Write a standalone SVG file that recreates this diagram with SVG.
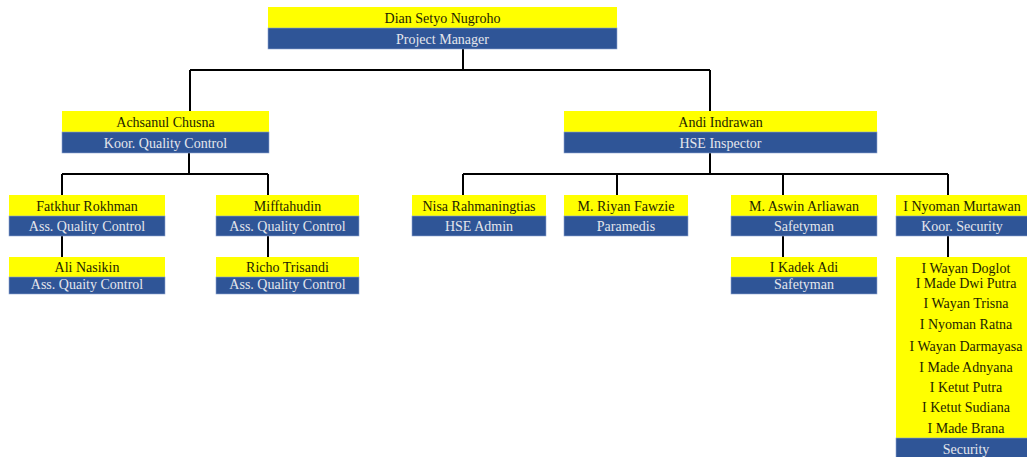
<svg xmlns="http://www.w3.org/2000/svg" width="1027" height="457" viewBox="0 0 1027 457">
<style>
.y{fill:#ffff00}
.b{fill:#2f5597;stroke:#8da4cf;stroke-width:0.6}
.n{font-family:"Liberation Serif","Times New Roman",serif;font-size:14px;fill:#1e1e00;text-anchor:middle}
.r{font-family:"Liberation Serif","Times New Roman",serif;font-size:14px;fill:#e4e6ec;text-anchor:middle}
.c{stroke:#000;stroke-width:2;fill:none}
</style>
<rect width="1027" height="457" fill="#ffffff"/>
<g id="connectors">
<path class="c" d="M463 49V70M190 70H710M190 70V111M710 70V111"/>
<path class="c" d="M189 153V174M62 174H268M62 174V195M268 174V195M62 236V257M268 236V257"/>
<path class="c" d="M710 153V174M463 174H948M463 174V195M617 174V195M783 174V195M948 174V195M783 236V257M948 236V257"/>
</g>
<g id="n-dian">
<rect class="y" x="268" y="7" width="349" height="21"/>
<rect class="b" x="268" y="28" width="349" height="21"/>
<text class="n" x="442.5" y="23">Dian Setyo Nugroho</text>
<text class="r" x="442.5" y="44">Project Manager</text>
</g>
<g id="n-achsanul">
<rect class="y" x="62" y="111" width="207" height="21"/>
<rect class="b" x="62" y="132" width="207" height="21"/>
<text class="n" x="165.5" y="127">Achsanul Chusna</text>
<text class="r" x="165.5" y="148">Koor. Quality Control</text>
</g>
<g id="n-andi">
<rect class="y" x="564" y="111" width="313" height="21"/>
<rect class="b" x="564" y="132" width="313" height="21"/>
<text class="n" x="720.5" y="127">Andi Indrawan</text>
<text class="r" x="720.5" y="148">HSE Inspector</text>
</g>
<g id="n-fatkhur">
<rect class="y" x="9" y="195" width="156" height="21"/>
<rect class="b" x="9" y="216" width="156" height="20"/>
<text class="n" x="87" y="211">Fatkhur Rokhman</text>
<text class="r" x="87" y="231">Ass. Quality Control</text>
</g>
<g id="n-mifftahudin">
<rect class="y" x="216" y="195" width="143" height="21"/>
<rect class="b" x="216" y="216" width="143" height="20"/>
<text class="n" x="287.5" y="211">Mifftahudin</text>
<text class="r" x="287.5" y="231">Ass. Quality Control</text>
</g>
<g id="n-ali">
<rect class="y" x="9" y="257" width="156" height="20"/>
<rect class="b" x="9" y="277" width="156" height="17"/>
<text class="n" x="87" y="272">Ali Nasikin</text>
<text class="r" x="87" y="289">Ass. Quaity Control</text>
</g>
<g id="n-richo">
<rect class="y" x="216" y="257" width="143" height="20"/>
<rect class="b" x="216" y="277" width="143" height="17"/>
<text class="n" x="287.5" y="272">Richo Trisandi</text>
<text class="r" x="287.5" y="289">Ass. Quality Control</text>
</g>
<g id="n-nisa">
<rect class="y" x="412" y="195" width="134" height="21"/>
<rect class="b" x="412" y="216" width="134" height="20"/>
<text class="n" x="479" y="211">Nisa Rahmaningtias</text>
<text class="r" x="479" y="231">HSE Admin</text>
</g>
<g id="n-riyan">
<rect class="y" x="564" y="195" width="124" height="21"/>
<rect class="b" x="564" y="216" width="124" height="20"/>
<text class="n" x="626" y="211">M. Riyan Fawzie</text>
<text class="r" x="626" y="231">Paramedis</text>
</g>
<g id="n-aswin">
<rect class="y" x="731" y="195" width="146" height="21"/>
<rect class="b" x="731" y="216" width="146" height="20"/>
<text class="n" x="804" y="211">M. Aswin Arliawan</text>
<text class="r" x="804" y="231">Safetyman</text>
</g>
<g id="n-kadek">
<rect class="y" x="731" y="257" width="146" height="20"/>
<rect class="b" x="731" y="277" width="146" height="17"/>
<text class="n" x="804" y="272">I Kadek Adi</text>
<text class="r" x="804" y="289">Safetyman</text>
</g>
<g id="n-nyoman">
<rect class="y" x="896" y="195" width="140" height="21"/>
<rect class="b" x="896" y="216" width="140" height="20"/>
<text class="n" x="962" y="211">I Nyoman Murtawan</text>
<text class="r" x="962" y="231">Koor. Security</text>
</g>
<g id="n-security">
<rect class="y" x="896" y="257" width="140" height="181"/>
<rect class="b" x="896" y="438" width="140" height="22"/>
<text class="n" x="966" y="273">I Wayan Doglot</text>
<text class="n" x="966" y="288">I Made Dwi Putra</text>
<text class="n" x="966" y="308">I Wayan Trisna</text>
<text class="n" x="966" y="329">I Nyoman Ratna</text>
<text class="n" x="966" y="351">I Wayan Darmayasa</text>
<text class="n" x="966" y="372">I Made Adnyana</text>
<text class="n" x="966" y="392">I Ketut Putra</text>
<text class="n" x="966" y="412">I Ketut Sudiana</text>
<text class="n" x="966" y="433">I Made Brana</text>
<text class="r" x="966" y="454">Security</text>
</g>
</svg>
